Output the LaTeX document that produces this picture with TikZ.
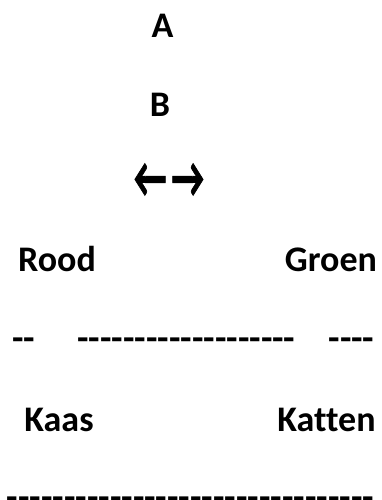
\documentclass[tikz,border=0pt]{standalone}
\usepackage{graphicx}
\usepackage{fontspec}
\setmainfont{Carlito}[BoldFont={* Bold},Ligatures={TeXOff,CommonOff}]
\newfontfamily\arrowfont{Carlito Bold}[FakeBold=1.5]
\begin{document}
\begin{tikzpicture}[x=1pt,y=-1pt,
  txt/.style={inner sep=0pt,outer sep=0pt,anchor=base,font=\fontsize{36}{40}\selectfont\bfseries},
  hyphens/.style={txt,font=\fontsize{37.5}{40}\selectfont\bfseries}]
\useasboundingbox (0,0) rectangle (382,500);
\node[txt] (a) at (162.5,38) {A};
\node[txt] (b) at (160,117) {B};
\node[txt,font=\fontsize{36}{40}\arrowfont] (arr) at (169,197) {\scalebox{1.0}[1.6]{←\kern5pt→}};
\node[txt] (rood) at (57,271) {Rood};
\node[txt] (groen) at (331,271) {Groen};
\node[hyphens] (d1) at (23.5,350) {--};
\node[hyphens] (d2) at (186.5,350) {-------------------};
\node[hyphens] (d3) at (351.5,350) {----};
\node[txt] (kaas) at (59,431) {Kaas};
\node[txt] (katten) at (326.5,431) {Katten};
\node[hyphens] (d4) at (190.5,509) {--------------------------------};
\end{tikzpicture}
\end{document}
